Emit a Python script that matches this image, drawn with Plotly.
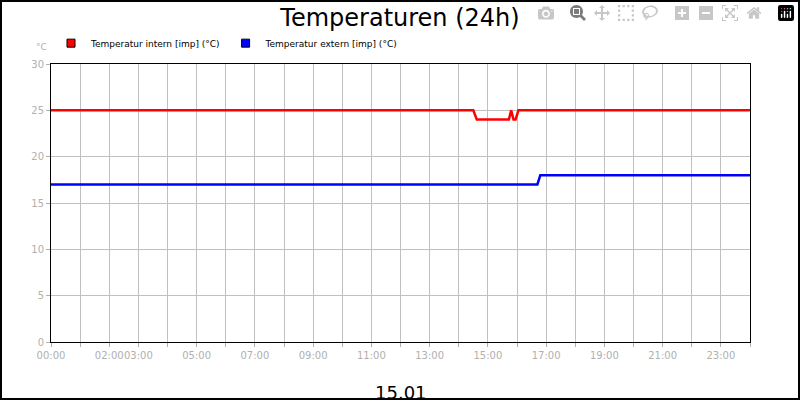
import plotly.graph_objects as go

# hours of the day (15.01)
t_intern = [0, 14.5, 14.62, 15.72, 15.8, 15.88, 15.95, 16.05, 16.15, 24]
v_intern = [25, 25, 24, 24, 25, 24, 24, 25, 25, 25]
t_extern = [0, 16.7, 16.8, 24]
v_extern = [17, 17, 18, 18]

names = ["Temperatur intern [imp] (°C)", "Temperatur extern [imp] (°C)"]
colors = ["#ff0000", "#0000ff"]

tick_vals = [0, 2, 3, 5, 7, 9, 11, 13, 15, 17, 19, 21, 23]
tick_text = ["%02d:00" % h for h in tick_vals]

fig = go.Figure()
for t, v, c in [(t_intern, v_intern, colors[0]), (t_extern, v_extern, colors[1])]:
    fig.add_trace(go.Scatter(x=t, y=v, mode="lines", showlegend=False,
                             line=dict(color=c, width=2.5)))
# square legend keys
for n, c in zip(names, colors):
    fig.add_trace(go.Scatter(x=[None], y=[None], mode="markers", name=n,
                             marker=dict(symbol="square", size=8, color=c,
                                         line=dict(color="black", width=1))))

grid = dict(showgrid=True, gridcolor="#c0c0c0", gridwidth=1)
fig.update_layout(
    width=800, height=400,
    paper_bgcolor="white", plot_bgcolor="white",
    margin=dict(l=51, r=50, t=64, b=58),
    font=dict(family="DejaVu Sans", size=10, color="#b0b0b0"),
    title=dict(text="Temperaturen (24h)", x=0.5, y=0.955, xanchor="center", yanchor="middle",
               font=dict(size=24, color="black")),
    legend=dict(orientation="h", x=0.0, y=1.075, xanchor="left", yanchor="middle",
                font=dict(size=9, color="black"), itemwidth=30, tracegroupgap=0,
                bgcolor="rgba(0,0,0,0)"),
    xaxis=dict(range=[0, 24], tickvals=list(range(25)),
               ticktext=[tick_text[tick_vals.index(h)] if h in tick_vals else "" for h in range(25)],
               tickangle=0, ticks="outside", ticklen=4, tickcolor="#b0b0b0",
               showline=True, linecolor="black", linewidth=1, mirror=True, zeroline=False, **grid),
    yaxis=dict(range=[0, 30], dtick=5, ticks="outside", ticklen=4, tickcolor="#b0b0b0",
               showline=True, linecolor="black", linewidth=1, mirror=True, zeroline=False, **grid),
    shapes=[dict(type="rect", xref="paper", yref="paper", x0=-50/699, x1=1+49/699,
                 y0=-57/278, y1=1+63/278, line=dict(color="black", width=2))],
    annotations=[
        dict(text="15.01", xref="paper", yref="paper", x=0.5, y=-0.135, yanchor="top",
             showarrow=False, font=dict(size=18, color="black")),
        dict(text="°C", xref="paper", yref="paper", x=-0.013, y=1.061, xanchor="center",
             yanchor="middle", showarrow=False, font=dict(size=9, color="#b0b0b0")),
    ],
)
fig.write_html("out.html", post_script="document.body.style.margin='0';")
